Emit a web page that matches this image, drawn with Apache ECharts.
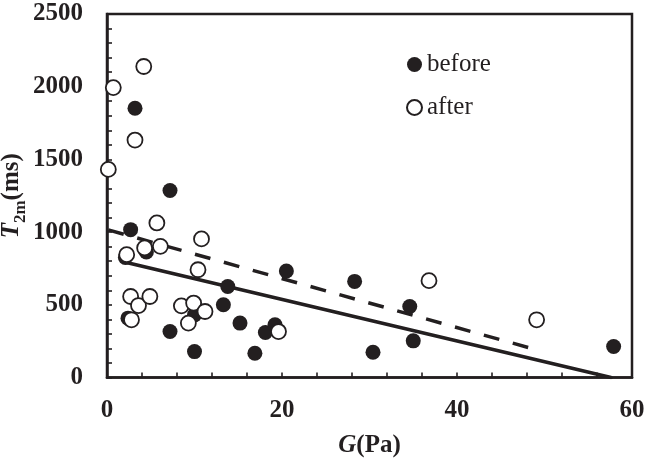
<!DOCTYPE html>
<html>
<head>
<meta charset="utf-8">
<script src="https://cdn.jsdelivr.net/npm/echarts@6/dist/echarts.min.js"></script>
<style>
html,body{margin:0;padding:0;background:#fff;}
#chart{width:649px;height:458px;}
</style>
</head>
<body>
<div id="chart"></div>
<script>
// G (Pa), T2m (ms)
var beforeG   = [2.1, 2.4, 2.7, 3.2, 4.5, 7.2, 7.2, 10.0, 10.0, 13.3, 13.8, 15.2, 16.9, 18.1, 19.2, 20.5, 28.3, 30.4, 34.6, 35.0, 57.9];
var beforeT2m = [826, 408, 1017, 1852, 863, 1286, 316, 431, 178, 500, 626, 374, 167, 309, 362, 732, 661, 174, 488, 252, 213];
var afterG    = [0.15, 0.72, 2.25, 2.7, 2.8, 3.2, 3.6, 4.2, 4.3, 4.9, 5.7, 6.1, 8.5, 9.3, 9.9, 10.4, 10.8, 11.2, 19.6, 36.8, 49.1];
var afterT2m  = [1431, 1994, 845, 557, 397, 1633, 495, 2139, 891, 557, 1063, 902, 493, 374, 512, 741, 953, 454, 316, 666, 397];
// trend line end points
var beforeTrendG = [2.1, 57.6];
var beforeTrendT = [793, 0];
var afterTrendG  = [0.15, 49.1];
var afterTrendT  = [1015, 190];
var xTickLabels = [0, 20, 40, 60];
var yTickLabels = [0, 500, 1000, 1500, 2000, 2500];

function pairs(xs, ys){ return xs.map(function(x,i){ return [x, ys[i]]; }); }

var INK = '#231f20';
var SERIF = '"Liberation Serif", "Times New Roman", serif';

var chart = echarts.init(document.getElementById('chart'), null, {renderer:'canvas'});
chart.setOption({
  animation: false,
  backgroundColor: '#fff',
  grid: {left: 107, right: 17, top: 14, bottom: 80.5, show: true, borderColor: INK, borderWidth: 2.5,
         backgroundColor: 'transparent', containLabel: false, outerBoundsMode: 'none'},
  legend: {
    data: ['before', 'after'],
    orient: 'vertical',
    left: 401, top: 47,
    itemWidth: 15, itemHeight: 15, itemGap: 18,
    icon: 'circle',
    textStyle: {fontFamily: SERIF, fontSize: 25, color: INK, lineHeight: 24}
  },
  xAxis: {
    type: 'value', min: 0, max: 60, interval: 4,
    name: '{i|G}{n|(Pa)}', nameLocation: 'middle', nameGap: 56, nameMoveOverlap: false,
    nameTextStyle: {rich: {
      i: {fontFamily: SERIF, fontSize: 25, fontWeight: 'bold', fontStyle: 'italic', color: INK},
      n: {fontFamily: SERIF, fontSize: 25, fontWeight: 'bold', color: INK}
    }},
    axisLine: {show: true, onZero: false, lineStyle: {color: INK, width: 2.5}},
    axisTick: {show: true, inside: true, length: 5, lineStyle: {color: INK, width: 1.6}},
    splitLine: {show: false},
    axisLabel: {
      margin: 21, fontFamily: SERIF, fontSize: 25, fontWeight: 'bold', color: INK,
      formatter: function(v){ return xTickLabels.indexOf(v) >= 0 ? String(v) : ''; }
    }
  },
  yAxis: {
    type: 'value', min: 0, max: 2500, interval: 100,
    name: '{i|T}{s|2m}{n|(ms)}', nameLocation: 'middle', nameGap: 78, nameRotate: 90, nameMoveOverlap: false,
    nameTextStyle: {rich: {
      i: {fontFamily: SERIF, fontSize: 25, fontWeight: 'bold', fontStyle: 'italic', color: INK, lineHeight: 30, verticalAlign: 'top'},
      s: {fontFamily: SERIF, fontSize: 17, fontWeight: 'bold', color: INK, lineHeight: 30, verticalAlign: 'bottom'},
      n: {fontFamily: SERIF, fontSize: 25, fontWeight: 'bold', color: INK, lineHeight: 30, verticalAlign: 'top'}
    }},
    axisLine: {show: true, onZero: false, lineStyle: {color: INK, width: 2.5}},
    axisTick: {show: true, inside: true, length: 5, lineStyle: {color: INK, width: 1.6}},
    splitLine: {show: false},
    axisLabel: {
      margin: 24, fontFamily: SERIF, fontSize: 25, fontWeight: 'bold', color: INK,
      formatter: function(v){ return yTickLabels.indexOf(v) >= 0 ? String(v) : ''; }
    }
  },
  series: [
    {name: 'beforeTrend', type: 'line', data: pairs(beforeTrendG, beforeTrendT), symbol: 'none', silent: true, z: 2,
     lineStyle: {color: INK, width: 3.5, cap: 'round'}},
    {name: 'afterTrend', type: 'line', data: pairs(afterTrendG, afterTrendT), symbol: 'none', silent: true, z: 2,
     lineStyle: {color: INK, width: 3.5, type: [16, 14]}},
    {name: 'before', type: 'scatter', data: pairs(beforeG, beforeT2m), symbol: 'circle', symbolSize: 15, z: 3,
     itemStyle: {color: INK, opacity: 1}},
    {name: 'after', type: 'scatter', data: pairs(afterG, afterT2m), symbol: 'circle', symbolSize: 15, z: 4,
     itemStyle: {color: '#fff', borderColor: INK, borderWidth: 1.8, opacity: 1}}
  ]
});
</script>
</body>
</html>
